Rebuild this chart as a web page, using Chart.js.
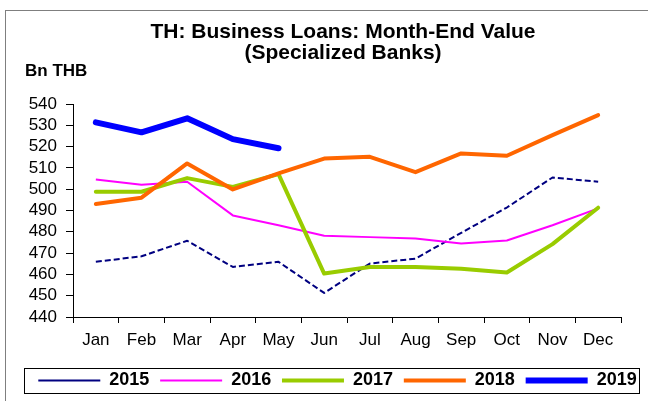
<!DOCTYPE html>
<html lang="en">
<head>
  <meta charset="UTF-8" />
  <title>TH: Business Loans - Specialized Banks</title>
  <script src="https://cdn.jsdelivr.net/npm/chart.js"></script>
  <style>
    body {
      margin: 0;
      background: #fff;
      font-family: 'Liberation Sans', Arial, sans-serif;
    }

    .wrap {
      position: relative;
      width: 648px;
      height: 401px;
      overflow: hidden;
    }

    .frame {
      position: absolute;
      left: 5px;
      top: 10px;
      width: 700px;
      height: 450px;
      border-left: 1px solid #7f7f7f;
      border-top: 1px solid #7f7f7f;
    }

    #loanChart {
      position: absolute;
      left: 0;
      top: 0;
    }
  </style>
</head>
<body>

  <div class="wrap">
    <div class="frame"></div>
    <canvas id="loanChart" width="648" height="401"></canvas>
  </div>

  <script>
    const months = ['Jan', 'Feb', 'Mar', 'Apr', 'May', 'Jun', 'Jul', 'Aug', 'Sep', 'Oct', 'Nov', 'Dec'];

    const loans2015 = [465.9, 468.5, 475.8, 463.5, 465.9, 451.3, 465.1, 467.4, 479.5, 491.4, 505.5, 503.5];
    const loans2016 = [504.6, 502.1, 503.5, 487.7, 483.1, 478.1, 477.5, 476.9, 474.5, 475.9, 483.1, 491.0];
    const loans2017 = [498.8, 498.8, 505.2, 501.1, 507.1, 460.4, 463.5, 463.5, 462.7, 460.9, 474.2, 491.3];
    const loans2018 = [493.1, 496.0, 512.1, 499.9, 507.4, 514.4, 515.2, 508.0, 516.8, 515.7, 525.4, 534.8];
    const loans2019 = [531.4, 526.7, 533.3, 523.5, 519.2];

    const yMin = 440;
    const yMax = 540;
    const yStep = 10;

    const FONT = "'Liberation Sans', Arial, sans-serif";

    // the original centres title and legend a bit right of the plot, nudge them
    const nudge = {
      id: 'nudge',
      afterLayout(chart) {
        const t = chart.titleBlock;
        const dxT = 343 - (t.left + t.right) / 2;
        t.left += dxT;
        t.right += dxT;
        const lg = chart.legend;
        const dxL = 337.5 - (lg.left + lg.right) / 2;
        lg.left += dxL;
        lg.right += dxL;
      }
    };

    // y label "Bn THB" and the box round the legend
    const extras = {
      id: 'extras',
      afterDraw(chart) {
        const ctx = chart.ctx;
        ctx.save();
        ctx.fillStyle = '#000';
        ctx.font = 'bold 17px ' + FONT;
        ctx.textBaseline = 'middle';
        ctx.textAlign = 'left';
        ctx.fillText('Bn THB', 25, 71);

        const hb = chart.legend.legendHitBoxes;
        if (hb && hb.length) {
          const first = hb[0];
          const last = hb[hb.length - 1];
          const cy = first.top + first.height / 2;
          const left = Math.round(first.left - 14) + 0.5;
          const right = Math.round(last.left + last.width + 2) + 0.5;
          ctx.strokeStyle = '#000';
          ctx.lineWidth = 1;
          ctx.strokeRect(left, Math.round(cy - 13) + 0.5, right - left, 25);
        }
        ctx.restore();
      }
    };

    new Chart(document.getElementById('loanChart'), {
      type: 'line',
      data: {
        labels: months,
        datasets: [
          {
            label: '2015',
            data: loans2015,
            borderColor: '#000080',
            backgroundColor: '#000080',
            borderWidth: 2,
            borderDash: [6, 3],
            order: 5
          },
          {
            label: '2016',
            data: loans2016,
            borderColor: '#ff00ff',
            backgroundColor: '#ff00ff',
            borderWidth: 2,
            order: 4
          },
          {
            label: '2017',
            data: loans2017,
            borderColor: '#99cc00',
            backgroundColor: '#99cc00',
            borderWidth: 4,
            borderCapStyle: 'round',
            order: 3
          },
          {
            label: '2018',
            data: loans2018,
            borderColor: '#ff6600',
            backgroundColor: '#ff6600',
            borderWidth: 4,
            borderCapStyle: 'round',
            order: 2
          },
          {
            label: '2019',
            data: loans2019,
            borderColor: '#0000ff',
            backgroundColor: '#0000ff',
            borderWidth: 6,
            borderCapStyle: 'round',
            order: 1
          }
        ]
      },
      options: {
        responsive: false,
        animation: false,
        devicePixelRatio: 1,
        layout: { padding: { left: 0, right: 27, top: 10, bottom: 1.5 } },
        elements: {
          point: { radius: 0, hoverRadius: 0 },
          line: { tension: 0, fill: false, borderJoinStyle: 'round' }
        },
        plugins: {
          title: {
            display: true,
            text: ['TH: Business Loans: Month-End Value', '(Specialized Banks)'],
            color: '#000',
            font: { family: FONT, size: 21, weight: 'bold', lineHeight: 1.0 },
            padding: { top: 12, bottom: 40 }
          },
          legend: {
            position: 'bottom',
            labels: {
              color: '#000',
              font: { family: FONT, size: 18, weight: 'bold' },
              usePointStyle: true,
              pointStyle: 'line',
              pointStyleWidth: 62,
              padding: 10.8,
              sort: (a, b) => a.datasetIndex - b.datasetIndex
            }
          },
          tooltip: { enabled: false }
        },
        scales: {
          x: {
            offset: true,
            grid: {
              offset: true,
              drawOnChartArea: false,
              color: '#000',
              tickLength: 6
            },
            border: { color: '#000', width: 1 },
            ticks: {
              color: '#000',
              font: { family: FONT, size: 17 },
              padding: 7,
              maxRotation: 0,
              autoSkip: false
            },
            afterFit(scale) { scale.height = 43.7; }
          },
          y: {
            min: yMin,
            max: yMax,
            grid: {
              drawOnChartArea: false,
              color: '#000',
              tickLength: 7
            },
            border: { color: '#000', width: 1 },
            ticks: {
              stepSize: yStep,
              autoSkip: false,
              color: '#000',
              font: { family: FONT, size: 17 },
              padding: 9
            },
            afterFit(scale) { scale.width = 73; }
          }
        }
      },
      plugins: [nudge, extras]
    });
  </script>
</body>
</html>
